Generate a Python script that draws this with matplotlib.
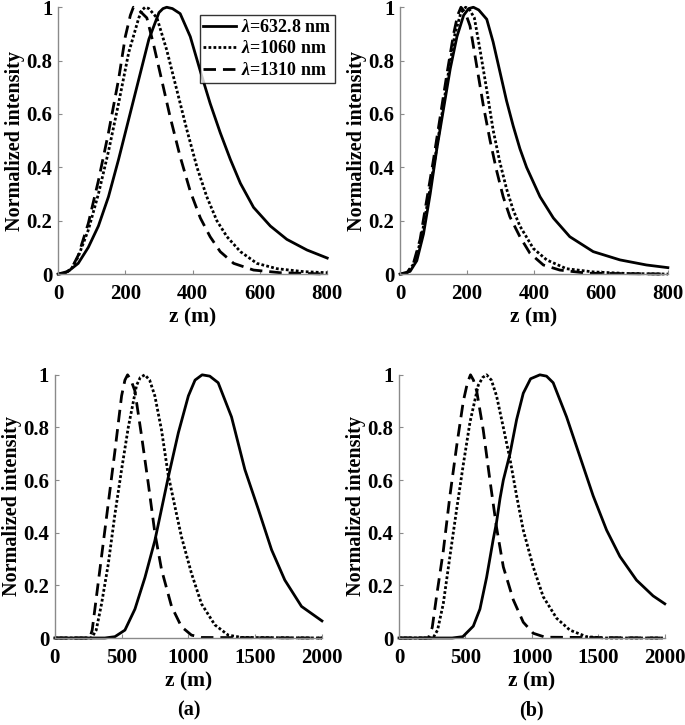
import matplotlib
matplotlib.use("Agg")
import matplotlib.pyplot as plt

plt.rcParams["font.family"] = "Liberation Serif"
plt.rcParams["font.weight"] = "bold"
plt.rcParams["mathtext.fontset"] = "custom"
plt.rcParams["mathtext.it"] = "Liberation Serif:italic:bold"
plt.rcParams["mathtext.rm"] = "Liberation Serif:bold"

labels = [r"$\lambda$=632.8 nm", r"$\lambda$=1060 nm", r"$\lambda$=1310 nm"]

# top (a): z up to 800 m
ta_z_633 = [0, 30, 60, 90, 120, 150, 180, 210, 240, 270, 300, 312, 323, 340,
            363, 393, 423, 452, 482, 512, 542, 581, 631, 680, 740, 800]
ta_y_633 = [0, 0.01, 0.04, 0.10, 0.18, 0.29, 0.43, 0.58, 0.73, 0.88, 0.98,
            0.995, 1.0, 0.995, 0.976, 0.89, 0.76, 0.64, 0.53, 0.43, 0.34,
            0.25, 0.18, 0.13, 0.09, 0.06]
ta_z_1060 = [0, 20, 40, 60, 90, 120, 150, 180, 210, 240, 250, 259, 270, 294,
             323, 353, 383, 413, 442, 472, 502, 542, 591, 651, 730, 800]
ta_y_1060 = [0, 0.003, 0.02, 0.065, 0.165, 0.30, 0.46, 0.64, 0.83, 0.96, 0.99,
             1.0, 0.995, 0.96, 0.84, 0.69, 0.54, 0.40, 0.29, 0.20, 0.14,
             0.084, 0.04, 0.02, 0.009, 0.005]
ta_z_1310 = [0, 20, 40, 60, 90, 120, 150, 180, 200, 215, 224, 240, 264, 284,
             304, 333, 363, 393, 423, 452, 482, 522, 581, 660, 800]
ta_y_1310 = [0, 0.003, 0.02, 0.07, 0.19, 0.35, 0.53, 0.73, 0.89, 0.97, 1.0,
             0.99, 0.96, 0.86, 0.75, 0.59, 0.44, 0.31, 0.21, 0.14, 0.084, 0.04,
             0.015, 0.005, 0]

# top (b): z up to 800 m
tb_z_633 = [0, 30, 50, 70, 90, 110, 130, 150, 170, 190, 205, 219, 235, 259,
            278, 298, 318, 338, 358, 378, 418, 458, 507, 577, 657, 736, 800]
tb_y_633 = [0, 0.01, 0.05, 0.15, 0.30, 0.47, 0.62, 0.77, 0.89, 0.97, 0.995,
            1.0, 0.99, 0.955, 0.87, 0.76, 0.65, 0.555, 0.47, 0.40, 0.29, 0.21,
            0.14, 0.084, 0.053, 0.034, 0.024]
tb_z_1060 = [0, 20, 42, 63, 84, 104, 124, 144, 164, 182, 196, 208, 222, 239,
             259, 278, 298, 318, 338, 358, 398, 438, 497, 577, 680, 800]
tb_y_1060 = [0, 0.003, 0.04, 0.13, 0.28, 0.43, 0.59, 0.75, 0.90, 0.98, 1.0,
             0.99, 0.96, 0.84, 0.69, 0.54, 0.42, 0.32, 0.24, 0.18, 0.096,
             0.053, 0.02, 0.008, 0.002, 0]
tb_z_1310 = [0, 20, 40, 60, 80, 100, 120, 140, 160, 172, 182, 195, 209, 229,
             249, 269, 288, 308, 328, 358, 388, 428, 477, 560, 800]
tb_y_1310 = [0, 0.003, 0.04, 0.13, 0.28, 0.43, 0.59, 0.75, 0.90, 0.97, 1.0,
             0.98, 0.93, 0.78, 0.63, 0.50, 0.39, 0.29, 0.215, 0.14, 0.078,
             0.034, 0.015, 0.003, 0]

# bottom (a): z up to 2000 m
ba_z_633 = [0, 375, 450, 525, 600, 675, 749, 799, 849, 925, 1000, 1050, 1103,
            1160, 1223, 1323, 1423, 1523, 1623, 1722, 1847, 2000]
ba_y_633 = [0, 0, 0.005, 0.03, 0.11, 0.23, 0.37, 0.49, 0.61, 0.78, 0.92, 0.98,
            1.0, 0.995, 0.97, 0.84, 0.64, 0.49, 0.335, 0.22, 0.12, 0.065]
ba_z_1060 = [0, 275, 310, 350, 400, 450, 500, 550, 612, 640, 674, 710, 749,
             799, 849, 899, 948, 1023, 1098, 1198, 1298, 1400, 2000]
ba_y_1060 = [0, 0, 0.03, 0.13, 0.28, 0.47, 0.64, 0.80, 0.96, 0.99, 1.0, 0.98,
             0.92, 0.79, 0.62, 0.50, 0.385, 0.246, 0.13, 0.05, 0.011, 0.002, 0]
ba_z_1310 = [0, 262, 280, 300, 350, 400, 450, 500, 525, 545, 570, 599, 649,
             699, 749, 799, 874, 948, 1023, 1100, 2000]
ba_y_1310 = [0, 0, 0.03, 0.11, 0.31, 0.51, 0.71, 0.92, 0.98, 1.0, 0.98, 0.94,
             0.77, 0.59, 0.40, 0.26, 0.12, 0.043, 0.011, 0.002, 0]

# bottom (b): z up to 2000 m
bb_z_633 = [0, 400, 480, 559, 609, 659, 709, 734, 760, 785, 835, 885, 935, 990,
            1060, 1110, 1160, 1261, 1361, 1461, 1562, 1662, 1787, 1912, 2000]
bb_y_633 = [0, 0, 0.005, 0.045, 0.11, 0.23, 0.375, 0.44, 0.53, 0.60, 0.70,
            0.83, 0.93, 0.985, 1.0, 0.995, 0.97, 0.84, 0.69, 0.54, 0.41, 0.31,
            0.22, 0.16, 0.13]
bb_z_1060 = [0, 256, 290, 333, 383, 434, 484, 534, 596, 630, 659, 695, 734,
             785, 835, 885, 935, 1010, 1085, 1186, 1286, 1411, 1550, 2000]
bb_y_1060 = [0, 0, 0.03, 0.13, 0.31, 0.49, 0.66, 0.82, 0.96, 0.99, 1.0, 0.98,
             0.92, 0.80, 0.68, 0.54, 0.41, 0.27, 0.157, 0.075, 0.03, 0.005, 0,
             0]
bb_z_1310 = [0, 221, 250, 283, 333, 383, 434, 484, 515, 538, 560, 584, 634,
             684, 734, 785, 860, 935, 1010, 1100, 2000]
bb_y_1310 = [0, 0, 0.04, 0.16, 0.33, 0.54, 0.73, 0.90, 0.97, 1.0, 0.98, 0.94,
             0.79, 0.60, 0.42, 0.27, 0.145, 0.06, 0.018, 0.003, 0]

panels = [
    ([0.0847, 0.622, 0.393, 0.368], 800, [0, 200, 400, 600, 800],
     [(ta_z_633, ta_y_633), (ta_z_1060, ta_y_1060), (ta_z_1310, ta_y_1310)]),
    ([0.584, 0.622, 0.391, 0.368], 800, [0, 200, 400, 600, 800],
     [(tb_z_633, tb_y_633), (tb_z_1060, tb_y_1060), (tb_z_1310, tb_y_1310)]),
    ([0.080, 0.120, 0.390, 0.363], 2000, [0, 500, 1000, 1500, 2000],
     [(ba_z_633, ba_y_633), (ba_z_1060, ba_y_1060), (ba_z_1310, ba_y_1310)]),
    ([0.5825, 0.120, 0.388, 0.363], 2000, [0, 500, 1000, 1500, 2000],
     [(bb_z_633, bb_y_633), (bb_z_1060, bb_y_1060), (bb_z_1310, bb_y_1310)]),
]
styles = [dict(ls="-", lw=2.0),
          dict(ls=(0, (1, 0.8)), lw=2.0),
          dict(ls=(0, (4.5, 2.5)), lw=2.0)]

fig = plt.figure(figsize=(6.85, 7.25), dpi=100)
axes = []
for rect, zmax, xticks, series in panels:
    ax = fig.add_axes(rect)
    for (z, y), st, lab in zip(series, styles, labels):
        ax.plot(z, y, color="black", label=lab, clip_on=False,
                solid_joinstyle="round", **st)
    ax.set_xlim(0, zmax)
    ax.set_ylim(0, 1)
    ax.set_xticks(xticks)
    ax.set_yticks([0, 0.2, 0.4, 0.6, 0.8, 1])
    ax.set_yticklabels(["0", "0.2", "0.4", "0.6", "0.8", "1"])
    for s in ("top", "right"):
        ax.spines[s].set_visible(False)
    for s in ("left", "bottom"):
        ax.spines[s].set_color("#8a8a8a")
        ax.spines[s].set_linewidth(1.0)
    ax.tick_params(direction="in", length=3, color="#8a8a8a",
                   labelsize=15)
    ax.tick_params(axis="x", pad=7)
    ax.tick_params(axis="y", pad=4)
    ax.set_xlabel("z (m)", fontsize=15.5, fontweight="bold", labelpad=3)
    ax.set_ylabel("Normalized intensity", fontsize=14.5, fontweight="bold",
                  labelpad=1)
    axes.append(ax)

leg = axes[0].legend(loc="upper right", bbox_to_anchor=(1.03, 0.97),
                     fontsize=13, frameon=True, fancybox=False,
                     handlelength=1.8, handletextpad=0.3, labelspacing=0.25,
                     borderpad=0.2, borderaxespad=0)
leg.get_frame().set_edgecolor("black")
leg.get_frame().set_linewidth(1.0)

fig.text(0.080 + 0.390 / 2, 0.013, "(a)", ha="center", fontsize=14.5,
         fontweight="bold")
fig.text(0.5825 + 0.388 / 2, 0.013, "(b)", ha="center", fontsize=14.5,
         fontweight="bold")

fig.savefig("out.png", dpi=100)
